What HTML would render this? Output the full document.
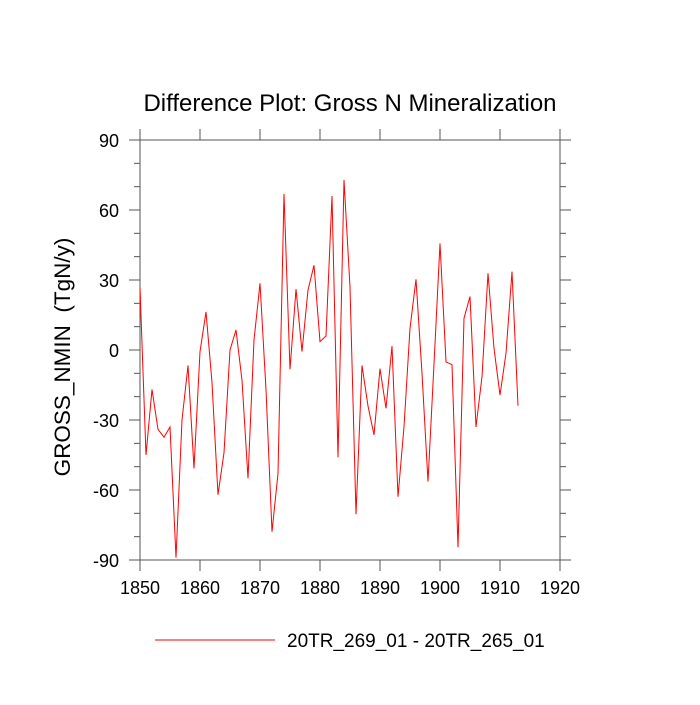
<!DOCTYPE html>
<html><head><meta charset="utf-8"><style>
html,body{margin:0;padding:0;background:#fff;}
svg text{font-family:"Liberation Sans",sans-serif;fill:#000;}
</style></head><body>
<svg id="chart" width="700" height="700" xmlns="http://www.w3.org/2000/svg">
<text x="350" y="111" font-size="24" text-anchor="middle">Difference Plot: Gross N Mineralization</text>
<text transform="translate(70,357) rotate(-90)" font-size="22.5" text-anchor="middle">GROSS_NMIN&#160;&#160;(TgN/y)</text>
<g id="axes"></g>
<polyline id="series" fill="none" stroke="#ff0000" stroke-width="1"/>
<line x1="155" y1="640" x2="275" y2="640" stroke="#ff0000" stroke-width="1"/>
<text x="287" y="647" font-size="19">20TR_269_01 - 20TR_265_01</text>
</svg>
<script>
const years = [];
for (let y = 1850; y <= 1913; y++) years.push(y);
const values = [26.7,-45,-16.9,-34,-37.4,-33,-89,-30,-6.6,-50.7,-0.7,16.3,-14,-62,-44,0,8.6,-13,-55,4.3,28.6,-17,-77.9,-52.9,66.9,-8.3,26.1,-0.7,25.7,36.3,3.6,6,66,-46,72.9,27,-70.4,-6.6,-24,-36.4,-8,-25,1.7,-62.9,-32.9,9.3,30.3,-10,-56.4,-6,45.7,-5.1,-6.3,-84.6,13.6,22.9,-33,-11.4,32.9,0.7,-19.3,-1.4,33.6,-23.9];
const xTicks = [1850,1860,1870,1880,1890,1900,1910,1920];
const yTicks = [-90,-60,-30,0,30,60,90];
const yMinor = [-80,-70,-50,-40,-20,-10,10,20,40,50,70,80];

const L=140,R=560,T=140,B=560;
const xs=v=>L+(v-1850)/70*(R-L);
const ys=v=>B-(v+90)/180*(B-T);
const ns="http://www.w3.org/2000/svg";
const ax=document.getElementById('axes');
function ln(x1,y1,x2,y2,name){
  const l=document.createElementNS(ns,'line');
  l.setAttribute('x1',x1);l.setAttribute('y1',y1);l.setAttribute('x2',x2);l.setAttribute('y2',y2);
  l.setAttribute('stroke','#555');l.setAttribute('stroke-width','1');
  
  
  ax.appendChild(l);
}
function tx(x,y,s,anchor,name){
  const t=document.createElementNS(ns,'text');
  t.setAttribute('x',x);t.setAttribute('y',y);t.setAttribute('font-size','18');t.setAttribute('text-anchor',anchor);
  t.textContent=s;
  
  
  ax.appendChild(t);
}
const r=document.createElementNS(ns,'rect');
r.setAttribute('x',L);r.setAttribute('y',T);r.setAttribute('width',R-L);r.setAttribute('height',B-T);
r.setAttribute('fill','none');r.setAttribute('stroke','#555');


ax.appendChild(r);
xTicks.forEach(v=>{const x=xs(v);ln(x,B,x,B+11,'x-tick');ln(x,T,x,T-11,'x-tick-top');tx(x,B+34,String(v),'middle','x-tick-label');});
yTicks.forEach(v=>{const y=ys(v);ln(L,y,L-11,y,'y-tick');ln(R,y,R+11,y,'y-tick-right');tx(L-21,y+7,String(v),'end','y-tick-label');});
yMinor.forEach(v=>{const y=ys(v);ln(L,y,L-6,y,'y-minor-tick');ln(R,y,R+6,y,'y-minor-tick-right');});
document.getElementById('series').setAttribute('points',values.map((v,i)=>xs(years[i])+','+ys(v)).join(' '));
</script>
</body></html>
